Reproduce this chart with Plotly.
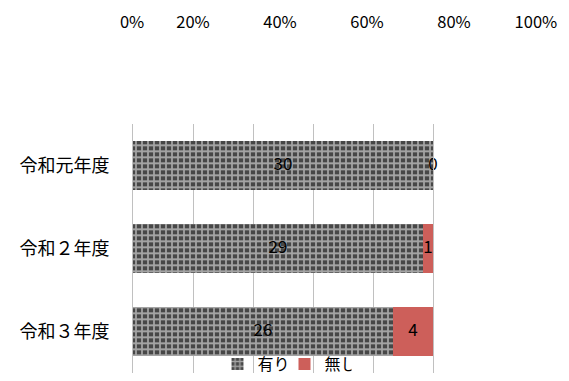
import plotly.graph_objects as go

# Survey answers per fiscal year
years = ["令和元年度", "令和２年度", "令和３年度"]
yes_counts = [30, 29, 26]
no_counts = [0, 1, 4]
series_names = ["有り", "無し"]
pct_tick_labels = ["0%", "20%", "40%", "60%", "80%", "100%"]

totals = [a + b for a, b in zip(yes_counts, no_counts)]
yes_pct = [a / t * 100 for a, t in zip(yes_counts, totals)]
no_pct = [b / t * 100 for b, t in zip(no_counts, totals)]

JP_FONT = "Noto Sans CJK JP"
W, H = 569, 381
PLOT_X0, PLOT_X1 = 133, 433
PLOT_Y0, PLOT_Y1 = 127, 381

fig = go.Figure()
fig.add_trace(go.Bar(
    y=years, x=yes_pct, orientation="h", name=series_names[0],
    marker=dict(color="#7a7a7a", line=dict(width=0),
                pattern=dict(shape="+", fgcolor="#ffffff", bgcolor="#474747",
                             size=6, solidity=0.5)),
    textposition="none", hoverinfo="x+y",
))
fig.add_trace(go.Bar(
    y=years, x=no_pct, orientation="h", name=series_names[1],
    marker=dict(color="#cd5f5a", line=dict(width=0)),
    textposition="none", hoverinfo="x+y",
))

# value labels at the middle of each segment
yes_mid = [p / 2 for p in yes_pct]
no_mid = [a + b / 2 for a, b in zip(yes_pct, no_pct)]
fig.add_trace(go.Scatter(
    x=yes_mid + no_mid, y=years + years, mode="text",
    text=[str(v) for v in yes_counts + no_counts],
    textposition="middle center", textfont=dict(size=17, color="#000000"),
    showlegend=False, hoverinfo="skip", cliponaxis=False,
))

# top percent scale spans the whole page width, in the same units as the bars
px_per_unit = (PLOT_X1 - PLOT_X0) / 100
top_range = [-PLOT_X0 / px_per_unit, (W - PLOT_X0) / px_per_unit]
top_tick_pos = [-0.3, 20, 49, 78, 107, 134.3]

fig.add_trace(go.Scatter(x=[None], y=[None], xaxis="x2", yaxis="y2",
                         mode="markers", showlegend=False, hoverinfo="skip"))

fig.update_layout(
    width=W, height=H, barmode="stack", bargap=0.41,
    margin=dict(l=0, r=0, t=0, b=0),
    paper_bgcolor="white", plot_bgcolor="rgba(0,0,0,0)",
    font=dict(family=JP_FONT, size=16, color="#000000"),
    xaxis=dict(domain=[PLOT_X0 / W, PLOT_X1 / W], range=[0, 100],
               showticklabels=False, showgrid=True,
               gridcolor="#c0c0c0", gridwidth=1,
               tickvals=[0, 20, 40, 60, 80, 100],
               zeroline=False, showline=False, fixedrange=True),
    xaxis2=dict(domain=[0, 1], anchor="free", position=1 - 32 / H, side="top",
                range=top_range, tickmode="array",
                tickvals=top_tick_pos, ticktext=pct_tick_labels,
                showgrid=False, zeroline=False, showline=False, ticks="",
                tickfont=dict(size=16.5)),
    yaxis2=dict(domain=[0, 1], anchor="x2", range=[0, 1], visible=False),
    yaxis=dict(domain=[1 - PLOT_Y1 / H, 1 - PLOT_Y0 / H],
               autorange="reversed", showgrid=False, zeroline=False,
               showline=True, mirror=True, linecolor="#c0c0c0", ticks="",
               ticklabelstandoff=19, tickfont=dict(size=18)),
    legend=dict(orientation="h", x=0.5, xanchor="center", y=1 - 372 / H,
                yanchor="middle", bgcolor="rgba(0,0,0,0)", font=dict(size=16),
                traceorder="normal", entrywidth=22),
    showlegend=True,
)

fig.write_html("out.html")
